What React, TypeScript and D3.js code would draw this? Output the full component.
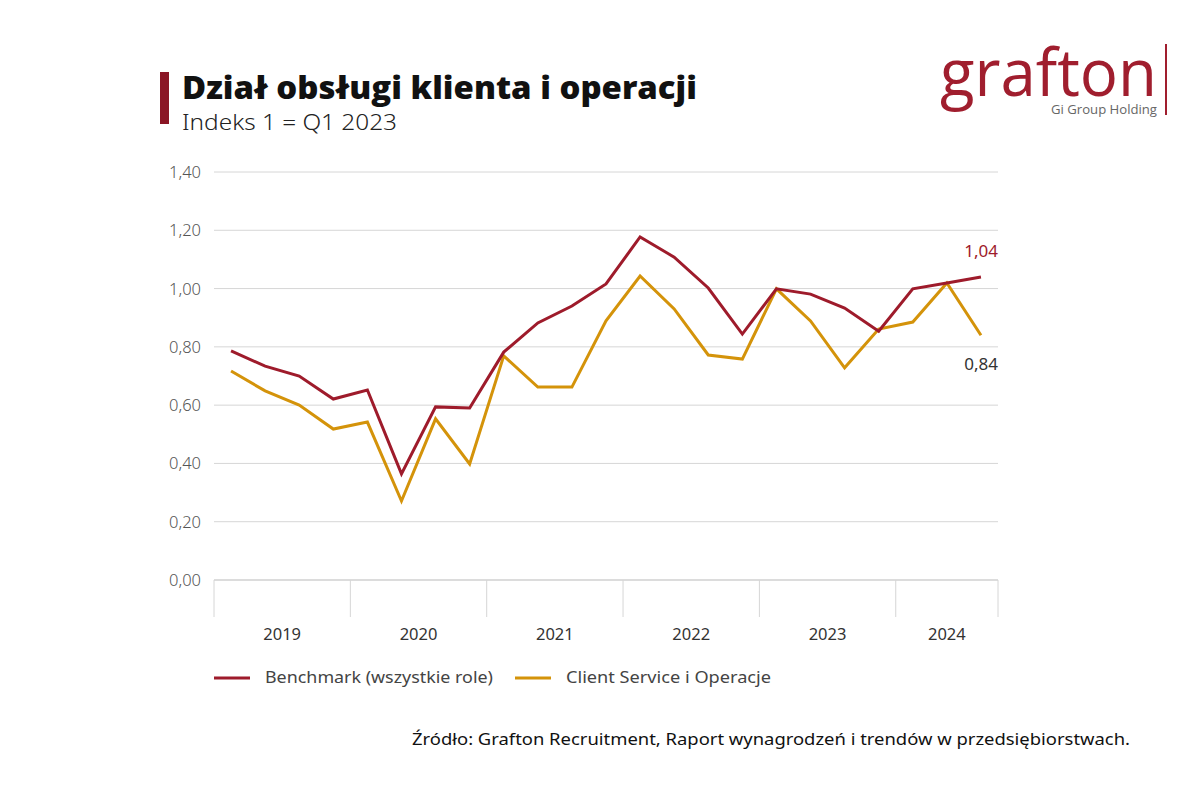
import React from "react";
import * as d3 from "d3";

const years = ["2019", "2020", "2021", "2022", "2023", "2024"];
const quartersPerYear = [4, 4, 4, 4, 4, 3];
const benchmark = [0.786, 0.734, 0.70, 0.621, 0.652, 0.364, 0.594, 0.59, 0.782, 0.882, 0.94, 1.016, 1.177, 1.108, 1.002, 0.844, 0.999, 0.981, 0.933, 0.854, 0.999, 1.019, 1.04];
const clientService = [0.717, 0.649, 0.60, 0.518, 0.542, 0.271, 0.553, 0.398, 0.769, 0.662, 0.662, 0.889, 1.043, 0.93, 0.772, 0.758, 0.999, 0.889, 0.728, 0.861, 0.885, 1.019, 0.84];
const yTicks = [0, 0.2, 0.4, 0.6, 0.8, 1.0, 1.2, 1.4];

const RED = "#9E1B2B";
const ORANGE = "#D4930A";
const FONT = "'Noto Sans', sans-serif";

export default function App() {
  const n = benchmark.length;
  const x = d3.scaleLinear().domain([0, n]).range([214, 998]);
  const y = d3.scaleLinear().domain([0, 1.4]).range([580, 172]);
  const line = d3
    .line<number>()
    .x((_, i) => x(i + 0.5))
    .y((d) => y(d));
  const fmt = (v: number) => v.toFixed(2).replace(".", ",");

  const bounds: number[] = [0];
  quartersPerYear.forEach((q) => bounds.push(bounds[bounds.length - 1] + q));

  return (
    <svg width={1200} height={800} style={{ position: "absolute", left: 0, top: 0, background: "#fff" }} fontFamily={FONT}>
      <rect x={0} y={0} width={1200} height={800} fill="#fff" />
      {/* Title */}
      <rect x={160} y={72} width={9} height={52} fill="#8B1625" />
      <text x={182} y={99} fontSize={32} fontWeight={800} fill="#111" fontFamily="'Open Sans', sans-serif" textLength={515} lengthAdjust="spacingAndGlyphs">Dział obsługi klienta i operacji</text>
      <text x={182} y={130} fontSize={21} fill="#222" fontWeight={300} textLength={215} lengthAdjust="spacingAndGlyphs">Indeks 1 = Q1 2023</text>

      {/* Logo */}
      <text x={940} y={96} fontSize={66} fill="#A01E2E" fontFamily="'Open Sans', sans-serif" textLength={217} lengthAdjust="spacingAndGlyphs">grafton</text>
      <text x={1157} y={114} fontSize={12.5} fill="#666" textAnchor="end" fontFamily="'Open Sans', sans-serif" textLength={106} lengthAdjust="spacingAndGlyphs">Gi Group Holding</text>
      <rect x={1165} y={44} width={2} height={71} fill="#A01E2E" />

      {/* Grid */}
      {yTicks.map((t) => (
        <g key={t}>
          {t > 0 && <line x1={214} x2={998} y1={y(t)} y2={y(t)} stroke="#d6d6d6" strokeWidth={1} />}
          <text x={201} y={y(t) + 6} textAnchor="end" fontSize={16.5} fill="#555" fontWeight={300}>{fmt(t)}</text>
        </g>
      ))}
      <line x1={214} x2={998} y1={580} y2={580} stroke="#d0d0d0" strokeWidth={1.5} />
      {bounds.map((b, i) => (
        <line key={i} x1={x(b)} x2={x(b)} y1={580} y2={617} stroke="#d6d6d6" strokeWidth={1} />
      ))}
      {years.map((yr, i) => (
        <text key={yr} x={(x(bounds[i]) + x(bounds[i + 1])) / 2} y={640} textAnchor="middle" fontSize={16.5} fill="#333">{yr}</text>
      ))}

      {/* Lines */}
      <path d={line(clientService) || ""} fill="none" stroke={ORANGE} strokeWidth={3} strokeLinejoin="miter" />
      <path d={line(benchmark) || ""} fill="none" stroke={RED} strokeWidth={3} strokeLinejoin="miter" />

      {/* End labels */}
      <text x={998} y={257} textAnchor="end" fontSize={17} fill={RED}>{fmt(benchmark[n - 1])}</text>
      <text x={998} y={370} textAnchor="end" fontSize={17} fill="#333">{fmt(clientService[n - 1])}</text>

      {/* Legend */}
      <line x1={214} x2={250} y1={678} y2={678} stroke={RED} strokeWidth={3} />
      <text x={265} y={683} fontSize={16.5} fill="#444" textLength={228} lengthAdjust="spacingAndGlyphs">Benchmark (wszystkie role)</text>
      <line x1={515} x2={551} y1={678} y2={678} stroke={ORANGE} strokeWidth={3} />
      <text x={566} y={683} fontSize={16.5} fill="#444" textLength={205} lengthAdjust="spacingAndGlyphs">Client Service i Operacje</text>

      {/* Source */}
      <text x={412} y={745} fontSize={16.5} fill="#111" textLength={718} lengthAdjust="spacingAndGlyphs">Źródło: Grafton Recruitment, Raport wynagrodzeń i trendów w przedsiębiorstwach.</text>
    </svg>
  );
}
